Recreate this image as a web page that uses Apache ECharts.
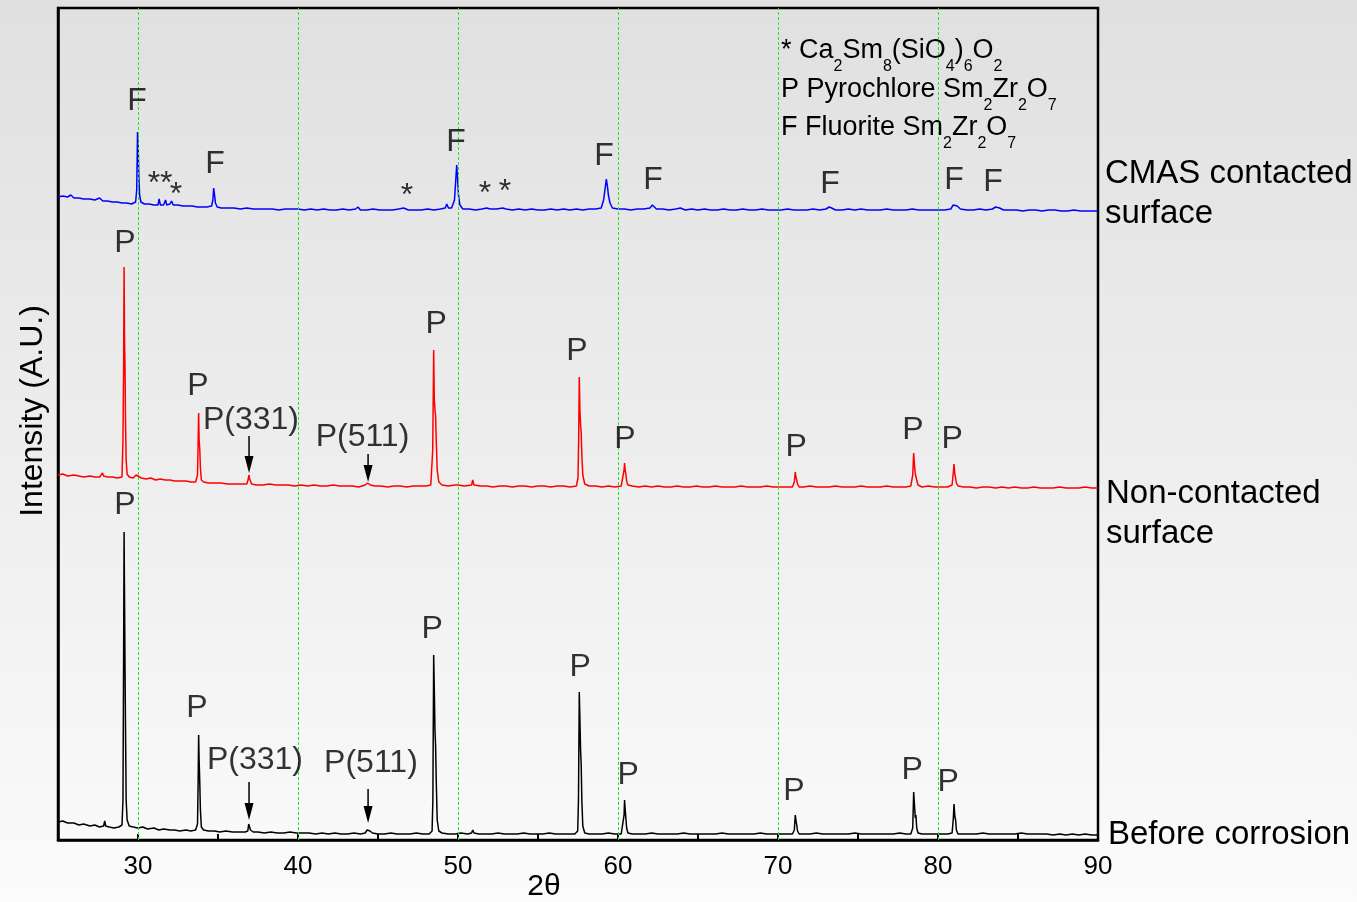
<!DOCTYPE html>
<html><head><meta charset="utf-8">
<script src="https://cdn.jsdelivr.net/npm/echarts@6.0.0/dist/echarts.min.js"></script>
<style>html,body{margin:0;padding:0;background:#fff;}#c{width:1357px;height:902px;}</style>
</head><body><div id="c"></div>
<script>
const FONT = "'Liberation Sans', Arial, Helvetica, sans-serif";

// x-axis tick labels and green reference lines (2θ, degrees)
const xTickLabels = [30, 40, 50, 60, 70, 80, 90];
const gridLines = [30, 40, 50, 60, 70, 80];

// Patterns: [2θ, intensity (A.U., stacked offsets included)]
const blackXY = [[25.0,18],[25.3,19],[25.6,17],[26.0,17],[26.3,15],[26.6,16],[27.0,14],[27.3,15],[27.6,13],[27.85,14],[27.92,19],[27.98,14],[28.2,13],[28.5,12],[28.8,13],[29.0,15],[29.06,40],[29.1,180],[29.13,308],[29.16,240],[29.19,172],[29.22,110],[29.26,40],[29.32,20],[29.45,14],[29.7,13],[30.0,12],[30.3,13],[30.6,11],[31.0,12],[31.3,10],[31.6,11],[32.0,10],[32.3,10],[32.6,9],[33.0,10],[33.3,9],[33.6,10],[33.72,16],[33.76,60],[33.79,105],[33.82,80],[33.86,58],[33.9,30],[33.96,13],[34.1,10],[34.4,9],[34.8,9],[35.1,8],[35.5,9],[35.9,8],[36.3,8],[36.7,8],[36.86,9],[36.92,16],[36.96,15],[37.03,10],[37.2,8],[37.5,8],[37.9,7],[38.3,8],[38.7,7],[39.1,7],[39.5,8],[39.9,7],[40.3,7],[40.7,7],[41.1,6],[41.5,7],[41.9,6],[42.3,7],[42.7,6],[43.1,6],[43.5,7],[43.9,6],[44.2,7],[44.32,10],[44.4,11],[44.5,9],[44.65,7],[45.0,6],[45.4,6],[45.8,7],[46.2,6],[46.6,6],[47.0,6],[47.4,7],[47.8,6],[48.2,6],[48.38,9],[48.43,40],[48.48,185],[48.52,150],[48.56,110],[48.6,94],[48.64,60],[48.7,20],[48.8,9],[49.0,7],[49.4,6],[49.8,6],[50.2,7],[50.6,6],[50.85,7],[50.92,10],[51.0,7],[51.3,6],[51.7,6],[52.1,6],[52.5,7],[52.9,6],[53.3,6],[53.7,6],[54.1,7],[54.5,6],[54.9,6],[55.3,6],[55.7,7],[56.1,6],[56.5,6],[56.9,6],[57.3,6],[57.48,9],[57.53,40],[57.58,148],[57.62,120],[57.66,90],[57.7,75],[57.74,40],[57.8,14],[57.92,7],[58.2,6],[58.6,6],[59.0,6],[59.4,7],[59.8,6],[60.2,6],[60.32,8],[60.38,25],[60.41,40],[60.45,30],[60.49,22],[60.54,12],[60.62,7],[60.9,6],[61.3,6],[61.7,6],[62.1,7],[62.5,6],[62.9,6],[63.3,6],[63.7,6],[64.1,7],[64.5,6],[64.9,6],[65.3,6],[65.7,6],[66.1,6],[66.5,7],[66.9,6],[67.3,6],[67.7,6],[68.1,6],[68.5,6],[68.9,7],[69.3,6],[69.7,6],[70.1,6],[70.5,6],[70.9,6],[71.02,10],[71.08,25],[71.12,20],[71.17,15],[71.22,9],[71.32,6],[71.6,6],[72.0,6],[72.4,7],[72.8,6],[73.2,6],[73.6,6],[74.0,6],[74.4,6],[74.8,7],[75.2,6],[75.6,6],[76.0,6],[76.4,6],[76.8,6],[77.2,6],[77.6,7],[78.0,6],[78.3,6],[78.42,12],[78.48,48],[78.53,35],[78.58,22],[78.62,25],[78.67,12],[78.75,7],[79.0,6],[79.4,6],[79.8,6],[80.2,6],[80.6,6],[80.88,7],[80.96,22],[81.0,36],[81.05,24],[81.1,20],[81.15,10],[81.25,6],[81.6,6],[82.0,6],[82.4,6],[82.8,7],[83.2,6],[83.6,6],[84.0,6],[84.4,6],[84.8,6],[85.2,7],[85.6,6],[86.0,6],[86.4,6],[86.8,6],[87.2,5],[87.6,6],[88.0,5],[88.4,6],[88.8,5],[89.2,6],[89.6,5],[90.0,5]];

const redXY = [[25.0,365],[25.3,366],[25.6,364],[26.0,365],[26.3,364],[26.6,363],[27.0,364],[27.3,363],[27.6,363],[27.78,367],[27.85,364],[28.1,363],[28.4,363],[28.7,362],[29.0,363],[29.06,400],[29.1,470],[29.13,573],[29.16,500],[29.19,471],[29.22,420],[29.26,380],[29.32,366],[29.45,363],[29.7,362],[29.88,365],[29.95,363],[30.2,362],[30.5,361],[30.8,362],[31.1,360],[31.4,361],[31.7,360],[32.0,360],[32.3,359],[32.6,359],[33.0,359],[33.3,358],[33.6,358],[33.72,365],[33.76,400],[33.79,427],[33.82,400],[33.86,391],[33.9,372],[33.96,360],[34.1,358],[34.4,357],[34.8,357],[35.2,357],[35.6,356],[36.0,356],[36.4,356],[36.8,356],[36.88,360],[36.93,365],[36.98,361],[37.1,356],[37.4,355],[37.8,355],[38.2,356],[38.6,355],[39.0,355],[39.4,355],[39.8,354],[40.2,355],[40.6,354],[41.0,355],[41.4,354],[41.8,354],[42.2,355],[42.6,354],[43.0,354],[43.4,354],[43.8,353],[44.2,355],[44.35,357],[44.42,358],[44.52,355],[44.8,354],[45.2,354],[45.6,353],[46.0,354],[46.4,354],[46.8,353],[47.2,354],[47.6,354],[48.0,354],[48.3,355],[48.42,390],[48.48,490],[48.52,440],[48.56,430],[48.6,424],[48.64,400],[48.7,370],[48.8,358],[49.0,355],[49.4,354],[49.8,355],[49.9,357],[50.0,355],[50.4,354],[50.85,355],[50.92,360],[51.0,355],[51.4,354],[51.8,354],[52.2,353],[52.6,354],[53.0,354],[53.4,353],[53.8,354],[54.2,354],[54.6,353],[55.0,354],[55.4,354],[55.8,353],[56.2,354],[56.6,354],[57.0,353],[57.4,354],[57.5,362],[57.54,400],[57.58,463],[57.62,430],[57.66,415],[57.7,407],[57.74,385],[57.8,365],[57.92,356],[58.2,354],[58.6,354],[59.0,353],[59.4,354],[59.8,353],[60.2,354],[60.32,356],[60.38,370],[60.41,377],[60.45,370],[60.49,366],[60.54,359],[60.62,355],[60.9,354],[61.3,353],[61.7,354],[62.1,353],[62.5,354],[62.9,353],[63.3,353],[63.7,354],[64.1,353],[64.5,353],[64.9,354],[65.3,353],[65.7,353],[66.1,354],[66.5,353],[66.9,353],[67.3,353],[67.7,354],[68.1,353],[68.5,353],[68.9,353],[69.3,354],[69.7,353],[70.1,353],[70.5,353],[70.9,353],[71.02,358],[71.08,368],[71.12,363],[71.17,360],[71.22,356],[71.32,353],[71.6,353],[72.0,354],[72.4,353],[72.8,353],[73.2,353],[73.6,354],[74.0,353],[74.4,353],[74.8,353],[75.2,354],[75.6,353],[76.0,353],[76.4,353],[76.8,354],[77.2,353],[77.6,353],[78.0,353],[78.3,354],[78.42,365],[78.48,387],[78.53,375],[78.58,366],[78.62,368],[78.67,360],[78.75,355],[79.0,353],[79.4,354],[79.8,353],[80.2,353],[80.6,353],[80.88,355],[80.96,368],[81.0,376],[81.05,366],[81.1,362],[81.15,357],[81.25,354],[81.6,353],[82.0,353],[82.4,352],[82.8,353],[83.2,353],[83.6,352],[84.0,353],[84.4,352],[84.8,353],[85.2,352],[85.6,352],[86.0,353],[86.4,352],[86.8,352],[87.2,352],[87.6,353],[88.0,352],[88.4,352],[88.8,352],[89.2,353],[89.6,352],[90.0,352]];

const blueXY = [[25.0,643],[25.3,644],[25.6,643],[25.8,645],[26.0,642],[26.3,642],[26.6,641],[27.0,641],[27.3,640],[27.6,642],[27.8,639],[28.1,639],[28.4,638],[28.7,638],[29.0,637],[29.3,637],[29.6,636],[29.85,638],[29.92,650],[29.97,708],[30.01,695],[30.05,665],[30.1,645],[30.18,638],[30.4,636],[30.7,636],[31.0,635],[31.25,635],[31.32,641],[31.4,635],[31.6,635],[31.72,640],[31.8,635],[32.0,636],[32.1,639],[32.2,635],[32.5,635],[32.8,634],[33.1,634],[33.4,634],[33.7,633],[34.0,633],[34.3,633],[34.6,634],[34.68,640],[34.73,652],[34.78,646],[34.84,637],[34.95,633],[35.2,632],[35.6,632],[36.0,632],[36.4,631],[36.8,632],[37.2,631],[37.6,631],[38.0,631],[38.4,631],[38.8,630],[39.2,631],[39.6,631],[40.0,631],[40.4,630],[40.8,631],[41.2,630],[41.6,631],[42.0,630],[42.4,630],[42.8,631],[43.2,630],[43.6,631],[43.75,633],[43.9,630],[44.3,630],[44.7,631],[45.1,630],[45.5,630],[45.9,630],[46.3,631],[46.6,632],[46.9,630],[47.3,630],[47.7,630],[48.1,631],[48.5,630],[48.9,631],[49.2,632],[49.3,636],[49.4,632],[49.6,632],[49.78,640],[49.86,660],[49.92,675],[49.97,662],[50.03,645],[50.12,635],[50.3,631],[50.7,631],[51.1,630],[51.5,631],[51.8,632],[51.9,634],[52.0,631],[52.4,631],[52.8,632],[52.9,633],[53.0,631],[53.4,630],[53.8,631],[54.2,630],[54.6,631],[55.0,630],[55.4,630],[55.8,631],[56.2,630],[56.6,631],[57.0,630],[57.4,631],[57.8,630],[58.2,631],[58.6,631],[58.95,632],[59.1,640],[59.2,652],[59.27,661],[59.33,655],[59.4,645],[59.5,637],[59.65,632],[60.0,631],[60.4,631],[60.8,630],[61.2,631],[61.6,631],[62.0,632],[62.15,635],[62.25,634],[62.4,631],[62.8,631],[63.2,630],[63.6,631],[63.9,632],[64.2,630],[64.6,631],[65.0,630],[65.4,631],[65.8,630],[66.2,630],[66.6,631],[67.0,630],[67.4,630],[67.8,631],[68.2,630],[68.6,630],[69.0,631],[69.4,630],[69.8,630],[70.2,630],[70.6,631],[71.0,630],[71.4,630],[71.8,630],[72.2,631],[72.6,630],[73.0,631],[73.2,633],[73.35,632],[73.6,630],[74.0,630],[74.4,631],[74.8,630],[75.2,631],[75.6,630],[76.0,630],[76.4,630],[76.8,631],[77.2,630],[77.6,630],[78.0,630],[78.4,631],[78.8,630],[79.2,630],[79.6,630],[80.0,630],[80.4,630],[80.8,631],[80.95,635],[81.05,637],[81.2,634],[81.4,631],[81.8,630],[82.2,630],[82.6,631],[83.0,630],[83.4,631],[83.6,633],[83.7,634],[83.85,632],[84.1,630],[84.5,630],[84.9,630],[85.3,629],[85.7,630],[86.1,630],[86.5,629],[86.9,630],[87.3,630],[87.7,629],[88.1,629],[88.5,630],[88.9,629],[89.3,629],[89.7,629],[90.0,629]];

// Peak annotations: [2θ, intensity, text]
const blackLabels = [[29.19,335,'P'],[33.69,132,'P'],[37.31,80,'P(331)'],[44.56,77,'P(511)'],[48.38,211,'P'],[57.63,173,'P'],[60.63,65,'P'],[71.0,49,'P'],[78.38,70,'P'],[80.63,58,'P']];
const redLabels = [[29.19,597,'P'],[33.75,454,'P'],[37.06,420,'P(331)'],[44.03,403,'P(511)'],[48.63,516,'P'],[57.44,489,'P'],[60.44,401,'P'],[71.13,393,'P'],[78.44,410,'P'],[80.88,401,'P']];
const blueLabels = [[29.94,739,'F'],[34.81,676,'F'],[49.88,698,'F'],[59.13,684,'F'],[62.19,660,'F'],[73.25,656,'F'],[81.0,660,'F'],[83.44,658,'F'],
                    [31.38,656,'**'],[32.38,645,'*'],[46.81,644,'*'],[51.69,646,'*'],[52.94,648,'*']];
// Arrows: [2θ, from intensity, to intensity]
const arrows = [[36.94,58,20],[44.38,51,17],[36.94,404,367],[44.38,386,358]];

const seriesNames = ['CMAS contacted surface', 'Non-contacted surface', 'Before corrosion'];

const chart = echarts.init(document.getElementById('c'), null, {renderer: 'canvas'});

function labelSeries(list) {
  return {
    type: 'scatter', z: 6, silent: true, symbolSize: 1,
    itemStyle: {color: 'rgba(0,0,0,0)'},
    label: {show: true, position: 'inside', color: '#000', fontSize: 32, fontFamily: FONT},
    data: list.map(d => ({value: [d[0], d[1]], label: {formatter: d[2]}}))
  };
}

const legendRich = {
  n: {fontSize: 27, fontFamily: FONT, color: '#000', lineHeight: 48, verticalAlign: 'middle'},
  s: {fontSize: 16, fontFamily: FONT, color: '#000', lineHeight: 16, verticalAlign: 'bottom'}
};

const option = {
  animation: false,
  backgroundColor: {type: 'linear', x: 0, y: 0, x2: 0, y2: 1,
    colorStops: [{offset: 0, color: '#e0e0e0'}, {offset: 1, color: '#fbfbfb'}]},
  grid: {left: 58, right: 259, top: 8, bottom: 62, show: true, borderColor: '#000', borderWidth: 2.5, backgroundColor: 'transparent'},
  xAxis: {
    type: 'value', min: 25, max: 90, interval: 5,
    axisLine: {show: true, onZero: false, lineStyle: {color: '#000', width: 2.5}},
    axisTick: {show: true, inside: true, length: 6, lineStyle: {color: '#000', width: 2}},
    axisLabel: {margin: 14, fontSize: 26, color: '#000', fontFamily: FONT,
      formatter: v => xTickLabels.indexOf(v) >= 0 ? String(v) : ''},
    splitLine: {show: false}
  },
  yAxis: {
    type: 'value', min: 0, max: 832,
    axisLine: {show: true, lineStyle: {color: '#000', width: 2.5}},
    axisTick: {show: false}, axisLabel: {show: false}, splitLine: {show: false}
  },
  series: [
    {type: 'line', name: 'grid', data: [], z: 1, silent: true,
     markLine: {silent: true, symbol: ['none', 'none'], label: {show: false},
       lineStyle: {color: '#22e022', type: [3, 2], width: 1},
       data: gridLines.map(v => ({xAxis: v}))}},
    {type: 'line', name: seriesNames[0], data: blueXY, showSymbol: false, sampling: 'none', z: 3,
     lineStyle: {color: '#0000ff', width: 1.5}, itemStyle: {color: '#0000ff'}},
    {type: 'line', name: seriesNames[1], data: redXY, showSymbol: false, sampling: 'none', z: 3,
     lineStyle: {color: '#ff0000', width: 1.5}, itemStyle: {color: '#ff0000'}},
    {type: 'line', name: seriesNames[2], data: blackXY, showSymbol: false, sampling: 'none', z: 3,
     lineStyle: {color: '#000000', width: 1.5}, itemStyle: {color: '#000'}},
    labelSeries(blackLabels),
    labelSeries(redLabels),
    labelSeries(blueLabels),
    {type: 'custom', coordinateSystem: 'cartesian2d', silent: true, z: 5,
     data: arrows, encode: {x: 0, y: [1, 2]},
     renderItem: function (params, api) {
       const x = api.value(0);
       const p1 = api.coord([x, api.value(1)]);
       const p2 = api.coord([x, api.value(2)]);
       const hl = 17, hw = 4.5;
       return {type: 'group', children: [
         {type: 'line', shape: {x1: p1[0], y1: p1[1], x2: p2[0], y2: p2[1] - hl + 2}, style: {stroke: '#000', lineWidth: 1.5}},
         {type: 'polygon', shape: {points: [[p2[0] - hw, p2[1] - hl], [p2[0] + hw, p2[1] - hl], [p2[0], p2[1]]]}, style: {fill: '#000'}}
       ]};
     }}
  ],
  graphic: [
    {type: 'text', left: 1105, top: 154, style: {text: 'CMAS contacted\nsurface', fontSize: 33, fontFamily: FONT, lineHeight: 40, fill: '#000'}},
    {type: 'text', left: 1106, top: 474, style: {text: 'Non-contacted\nsurface', fontSize: 33, fontFamily: FONT, lineHeight: 40, fill: '#000'}},
    {type: 'text', left: 1108, top: 815, style: {text: 'Before corrosion', fontSize: 33, fontFamily: FONT, lineHeight: 40, fill: '#000'}},
    {type: 'text', x: 33, y: 411, rotation: Math.PI / 2, style: {text: 'Intensity (A.U.)', fontSize: 32, fontFamily: FONT, fill: '#000', align: 'center', verticalAlign: 'middle'}},
    {type: 'text', x: 544, y: 887, style: {text: '2θ', fontSize: 30, fontFamily: FONT, fill: '#000', align: 'center', verticalAlign: 'middle'}},
    {type: 'text', left: 781, top: 37, style: {text: '{n|* Ca}{s|2}{n|Sm}{s|8}{n|(SiO}{s|4}{n|)}{s|6}{n|O}{s|2}', rich: legendRich}},
    {type: 'text', left: 781, top: 76, style: {text: '{n|P Pyrochlore Sm}{s|2}{n|Zr}{s|2}{n|O}{s|7}', rich: legendRich}},
    {type: 'text', left: 781, top: 114, style: {text: '{n|F Fluorite Sm}{s|2}{n|Zr}{s|2}{n|O}{s|7}', rich: legendRich}}
  ]
};
chart.setOption(option);
</script>
</body></html>
